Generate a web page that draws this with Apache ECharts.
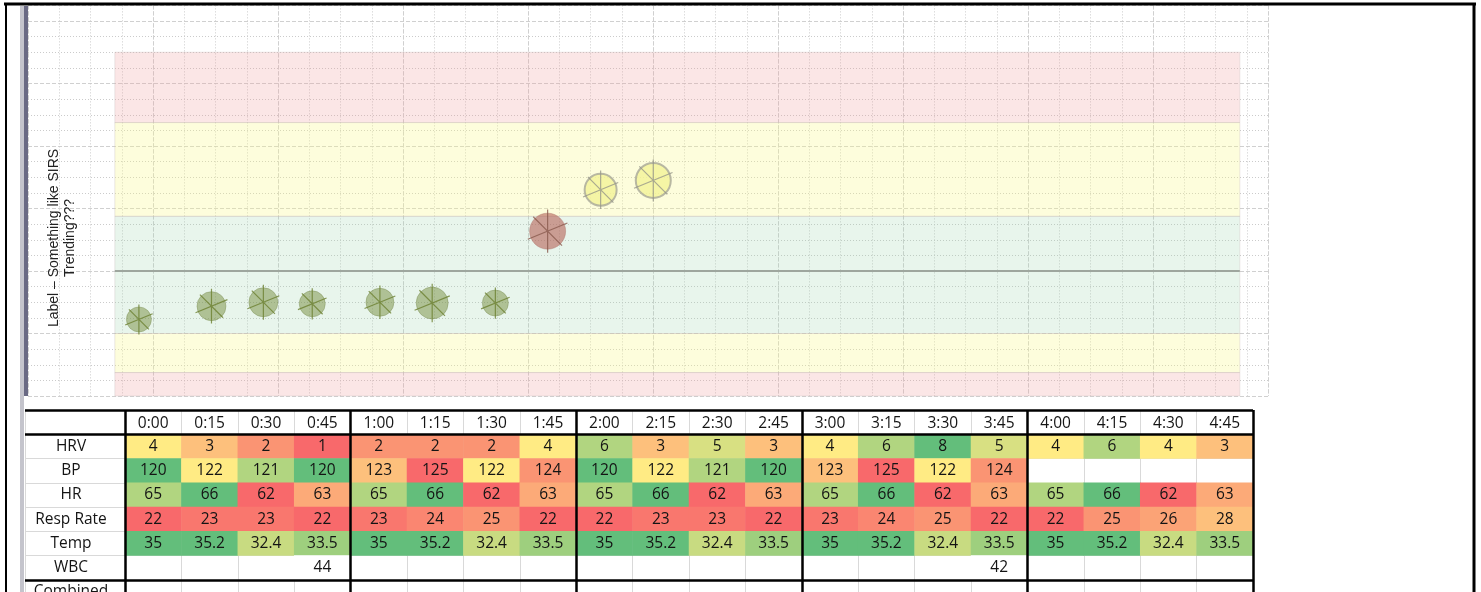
<!DOCTYPE html>
<html><head><meta charset="utf-8">
<script src="https://cdn.jsdelivr.net/npm/echarts@6/dist/echarts.min.js"></script>
<style>html,body{margin:0;padding:0;background:#fff}#c{width:1481px;height:592px}</style>
</head><body><div id="c"></div>
<script>
// ---------------- data ----------------
const times = ['0:00','0:15','0:30','0:45','1:00','1:15','1:30','1:45','2:00','2:15','2:30','2:45','3:00','3:15','3:30','3:45','4:00','4:15','4:30','4:45'];
const rowNames = ['', 'HRV', 'BP', 'HR', 'Resp Rate', 'Temp', 'WBC', 'Combined'];
const hrv  = [4,3,2,1, 2,2,2,4, 6,3,5,3, 4,6,8,5, 4,6,4,3];
const bp   = [120,122,121,120, 123,125,122,124, 120,122,121,120, 123,125,122,124, null,null,null,null];
const hr   = [65,66,62,63, 65,66,62,63, 65,66,62,63, 65,66,62,63, 65,66,62,63];
const resp = [22,23,23,22, 23,24,25,22, 22,23,23,22, 23,24,25,22, 22,25,26,28];
const temp = [35,35.2,32.4,33.5, 35,35.2,32.4,33.5, 35,35.2,32.4,33.5, 35,35.2,32.4,33.5, 35,35.2,32.4,33.5];
const wbc  = [null,null,null,44, null,null,null,null, null,null,null,null, null,null,null,42, null,null,null,null];

// trend bubbles (x in minutes, y in score units, weight -> bubble size)
const trendMinutes = [3.7, 23.0, 36.8, 49.8, 67.8, 81.7, 98.5, 112.4, 126.5, 140.5];
const trendScore   = [-3.1, -2.25, -2.0, -2.1, -2.0, -2.05, -2.05, 2.55, 5.2, 5.8];
const trendWeight  = [2.5, 2.9, 2.9, 2.6, 2.8, 3.2, 2.6, 3.6, 3.2, 3.5];
const trendStatus  = ['ok','ok','ok','ok','ok','ok','ok','alert','warn','warn'];

// zones (score units)
const zoneTop    = [14, 9.5, 3.5, -4, -6.5];
const zoneBottom = [9.5, 3.5, -4, -6.5, -8.3];
const zoneLevel  = ['red','yellow','green','yellow','red'];
const zoneStartMin = -2.7, zoneEndMin = 296.5;

// ---------------- layout ----------------
const tableLeft = 125, colW = 56.4, nCols = times.length;
const chartLeft = 28, chartRight = 1268;
const unitPx = 15.625, zeroY = 271, yMax = 17, yMin = -8;
const chartTop = zeroY - yMax * unitPx, chartH = (yMax - yMin) * unitPx;
const pxPerMin = colW / 15;
const xMinMin = (chartLeft - tableLeft) / pxPerMin;
const xMaxMin = (chartRight - tableLeft) / pxPerMin;
const gridUnits = (chartRight - chartLeft) / unitPx;
const tableTop = 410, rowH = 24.25;
const FONT_T = 'Open Sans';

// ---------------- styles ----------------
const zoneFill = {
  red: 'rgba(238,160,160,0.26)',
  yellow: 'rgba(250,248,140,0.30)',
  green: 'rgba(160,212,175,0.24)'
};
const statusFill = {
  ok:    {color:'rgba(118,140,60,0.62)', borderColor:'rgba(110,130,70,0.45)', borderWidth:1},
  alert: {color:'rgba(182,98,88,0.75)', borderColor:'rgba(170,110,100,0.5)', borderWidth:1},
  warn:  {color:'#f2f397', borderColor:'#a8a898', borderWidth:2}
};
const spokeColor = {ok:'#6c7f30', alert:'#8a5a4e', warn:'#96968a'};

const RED=[248,105,107], YEL=[255,235,132], GRN=[99,190,123];
function mix(a,b,t){return 'rgb('+a.map((x,i)=>Math.round(x+(b[i]-x)*t)).join(',')+')';}
function cellColor(v, s){
  if (!s) return '#ffffff';
  const loC = s.dir>0?RED:GRN, hiC = s.dir>0?GRN:RED;
  if (v <= s.mid){ const t=Math.max(0,(v-s.lo)/(s.mid-s.lo)); return mix(loC,YEL,t); }
  const t=Math.min(1,(v-s.mid)/(s.hi-s.mid)); return mix(YEL,hiC,t);
}
const tableRows = [
  {name:'HRV', values:hrv, scale:{lo:1, mid:4, hi:8, dir:1}},
  {name:'BP', values:bp, scale:{lo:120, mid:122, hi:125, dir:-1}},
  {name:'HR', values:hr, scale:{lo:62, mid:64, hi:66, dir:1}},
  {name:'Resp Rate', values:resp, scale:{lo:22, mid:31, hi:40, dir:1}},
  {name:'Temp', values:temp, scale:{lo:27, mid:31, hi:35, dir:1}},
  {name:'WBC', values:wbc, scale:null}
];
const cells = [];
tableRows.forEach(r => {
  const yi = rowNames.indexOf(r.name);
  r.values.forEach((v, xi) => {
    if (v === null) return;
    cells.push({value:[xi, yi, v], itemStyle:{color:cellColor(v, r.scale)}});
  });
});

const bubbleData = trendMinutes.map((m,i)=>({
  value:[m, trendScore[i], trendWeight[i]],
  itemStyle: statusFill[trendStatus[i]]
}));
const spokeData = trendMinutes.map((m,i)=>({
  value:[m, trendScore[i], trendWeight[i]],
  itemStyle:{color:'transparent', borderColor:spokeColor[trendStatus[i]], borderWidth:1.2}
}));
const zoneAreas = zoneTop.map((t,i)=>[
  {xAxis:zoneStartMin, yAxis:t, itemStyle:{color:zoneFill[zoneLevel[i]], borderColor:'rgba(200,190,190,0.35)', borderWidth:1}},
  {xAxis:zoneEndMin, yAxis:zoneBottom[i]}
]);

const minorLine = {show:true, lineStyle:{color:'#cbcbcb', width:1, type:[1,2]}};
const majorLine = {show:true, lineStyle:{color:'#d0d0d0', width:1, type:[4,2]}};
const thinCell = {show:true, interval:0, lineStyle:{color:'#d9d9d9', width:1}};
const thickCell = {color:'#000', width:2.5};
const off = {show:false};
const thickRow = (i) => i === 0 || i === 1 || i === 7;
const cellText = {fontFamily:FONT_T, fontSize:15.5, color:'#141414'};

const option = {
  animation:false,
  backgroundColor:'#ffffff',
  grid:[
    {left:chartLeft, top:chartTop, width:chartRight-chartLeft, height:chartH, outerBoundsMode:'none'},
    {left:tableLeft, top:tableTop, width:colW*nCols, height:rowH*rowNames.length, outerBoundsMode:'none'},
    {left:25, top:tableTop, width:tableLeft-25, height:rowH*rowNames.length, outerBoundsMode:'none'}
  ],
  xAxis:[
    {gridIndex:0, type:'value', min:xMinMin, max:xMaxMin, show:false},
    {gridIndex:0, type:'value', min:0, max:gridUnits, interval:2, axisLine:off, axisTick:off, axisLabel:off, splitLine:minorLine},
    {gridIndex:0, type:'value', min:0, max:gridUnits, interval:8, axisLine:off, axisTick:off, axisLabel:off, splitLine:majorLine},
    {gridIndex:1, type:'category', data:times, position:'top', axisLine:off, axisTick:off,
      axisLabel:Object.assign({inside:true, margin:6, interval:0}, cellText), splitLine:thinCell},
    {gridIndex:1, type:'value', min:0, max:nCols, interval:4, z:10, axisLine:off, axisTick:off, axisLabel:off, splitLine:{show:true, lineStyle:thickCell}},
    {gridIndex:2, type:'category', data:[''], axisLine:off, axisTick:off, axisLabel:off, splitLine:thinCell}
  ],
  yAxis:[
    {gridIndex:0, type:'value', min:yMin, max:yMax, interval:1, axisLine:off, axisTick:off, axisLabel:off, splitLine:minorLine},
    {gridIndex:0, type:'value', min:yMin, max:yMax, interval:4, axisLine:off, axisTick:off, axisLabel:off, splitLine:majorLine},
    {gridIndex:1, type:'category', data:rowNames, inverse:true, axisLine:off, axisTick:off,
      axisLabel:Object.assign({margin:54, align:'center', interval:0}, cellText), splitLine:thinCell},
    {gridIndex:1, type:'category', data:rowNames, inverse:true, z:10, axisLine:off, axisTick:off, axisLabel:off,
      splitLine:{show:true, interval:thickRow, lineStyle:thickCell}},
    {gridIndex:2, type:'category', data:rowNames, inverse:true, axisLine:off, axisTick:off, axisLabel:off, splitLine:thinCell},
    {gridIndex:2, type:'category', data:rowNames, inverse:true, z:10, axisLine:off, axisTick:off, axisLabel:off,
      splitLine:{show:true, interval:thickRow, lineStyle:thickCell}}
  ],
  series:[
    {type:'scatter', name:'zones', xAxisIndex:0, yAxisIndex:0, data:[], z:1, silent:true,
      markArea:{silent:true, data:zoneAreas},
      markLine:{silent:true, symbol:['none','none'], label:{show:false},
        lineStyle:{color:'#9ea69e', width:2, type:'solid'},
        data:[[{coord:[zoneStartMin,0]},{coord:[zoneEndMin,0]}]]}
    },
    {type:'scatter', name:'trend', xAxisIndex:0, yAxisIndex:0, z:3, data:bubbleData,
      symbol:'circle', symbolSize:v=>v[2]*10},
    {type:'scatter', name:'spokes', xAxisIndex:0, yAxisIndex:0, z:4, data:spokeData, silent:true,
      symbol:'path://M0,-1.2L0,1.2M-1.1,0.45L1.1,-0.45M-0.8,-0.8L0.8,0.8', symbolKeepAspect:true,
      symbolSize:v=>v[2]*12},
    {type:'heatmap', xAxisIndex:3, yAxisIndex:2, data:cells, z:2,
      itemStyle:{borderWidth:0},
      emphasis:{disabled:true},
      label:Object.assign({show:true, formatter:p=>String(p.value[2])}, cellText)}
  ],
  graphic:[
    {type:'rect', z:50, shape:{x:20, y:6, width:4, height:586}, style:{fill:'#c4c4cc'}},
    {type:'rect', z:50, shape:{x:24, y:6, width:4, height:chartTop+chartH-6}, style:{fill:'#6a6a84'}},
    {type:'line', z:60, shape:{x1:4, y1:4, x2:1476, y2:4}, style:{stroke:'#000', lineWidth:3}},
    {type:'line', z:60, shape:{x1:6, y1:4, x2:6, y2:592}, style:{stroke:'#000', lineWidth:2}},
    {type:'line', z:60, shape:{x1:1474, y1:4, x2:1474, y2:592}, style:{stroke:'#000', lineWidth:3}},
    {type:'text', z:60, x:62, y:238, rotation:Math.PI/2,
      style:{text:'Label \u2013 Something like SIRS\nTrending???', align:'center', verticalAlign:'middle',
        fontFamily:'Liberation Sans', fontSize:14, lineHeight:16, fill:'#222'}}
  ]
};
const chart = echarts.init(document.getElementById('c'));
chart.setOption(option);
</script></body></html>
